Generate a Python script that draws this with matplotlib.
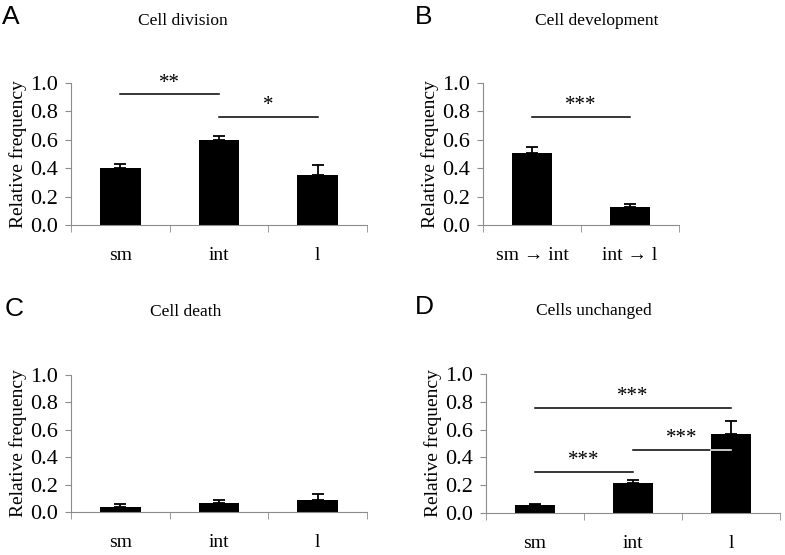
import numpy as np
import matplotlib.pyplot as plt

# Valores (frequência relativa, média e erro)
cats_3 = ['sm', 'int', 'l']
cats_dev = ['sm \u2192 int', 'int \u2192 l']

div_vals = [0.40, 0.60, 0.35]
div_err = [0.03, 0.03, 0.075]

dev_vals = [0.51, 0.13]
dev_err = [0.04, 0.02]

death_vals = [0.04, 0.065, 0.09]
death_err = [0.02, 0.02, 0.04]

unch_vals = [0.055, 0.215, 0.57]
unch_err = [0.01, 0.02, 0.09]

# comparações: (i, j, altura, texto)
div_sig = [(0, 1, 0.92, '**'), (1, 2, 0.763, '*')]
dev_sig = [(0, 1, 0.763, '***')]
unch_sig = [(0, 2, 0.758, '***'), (1, 2, 0.453, '***'), (0, 1, 0.297, '***')]

serif = 'Liberation Serif'
cinza = '#8c8c8c'
largura = 0.41

fig = plt.figure(figsize=(7.85, 5.55), dpi=100)


def painel(pos, cats, vals, errs, titulo, letra, sig, letra_x, titulo_x, y_titulo):
    ax = fig.add_axes(pos)
    x = np.arange(len(cats))
    ax.bar(x, vals, width=largura, color='black', zorder=2)
    ax.errorbar(x, vals, yerr=[np.zeros(len(errs)), errs], fmt='none',
                ecolor='black', elinewidth=1.3, capsize=4.5, capthick=1.3, zorder=1)
    for i, j, h, txt in sig:
        ax.plot([x[i], x[j]], [h, h], color='black', lw=1.1, zorder=1.5)
        # a parte da linha que cruza a barra aparece em branco
        if h < vals[j]:
            ax.plot([x[j] - largura / 2, x[j]], [h, h], color='white', lw=1.1, zorder=3)
        ax.text((x[i] + x[j]) / 2, h + 0.012, txt, ha='center', va='bottom',
                fontsize=15, family=serif)
    ax.set_xlim(-0.5, len(cats) - 0.5)
    ax.set_ylim(0, 1.0)
    ax.set_yticks(np.arange(0, 1.01, 0.2))
    ax.set_yticklabels(['%.1f' % v for v in np.arange(0, 1.01, 0.2)],
                       family=serif, fontsize=16)
    ax.set_xticks(x)
    ax.set_xticklabels(cats, family=serif, fontsize=14)
    ax.set_xticks(np.arange(len(cats) + 1) - 0.5, minor=True)
    ax.tick_params(axis='x', which='major', length=0, pad=16)
    ax.tick_params(axis='x', which='minor', length=5, color=cinza)
    ax.tick_params(axis='y', length=4.5, color=cinza, pad=5)
    ax.set_ylabel('Relative frequency', family=serif, fontsize=14, labelpad=2)
    for s in ['top', 'right']:
        ax.spines[s].set_visible(False)
    for s in ['left', 'bottom']:
        ax.spines[s].set_color(cinza)
    fig.text(titulo_x, y_titulo, titulo, ha='center', va='center',
             family=serif, fontsize=12.5)
    fig.text(letra_x, y_titulo + 0.006, letra, ha='left', va='center',
             family='Liberation Sans', fontsize=19)
    return ax


painel([0.0904, 0.5946, 0.3771, 0.2559], cats_3, div_vals, div_err,
       'Cell division', 'A', div_sig, 0.003, 0.233, 0.963)
painel([0.6153, 0.5946, 0.2497, 0.2559], cats_dev, dev_vals, dev_err,
       'Cell development', 'B', dev_sig, 0.528, 0.760, 0.963)
painel([0.0904, 0.0775, 0.3771, 0.2468], cats_3, death_vals, death_err,
       'Cell death', 'C', [], 0.006, 0.236, 0.438)
painel([0.619, 0.0757, 0.3745, 0.2505], cats_3, unch_vals, unch_err,
       'Cells unchanged', 'D', unch_sig, 0.528, 0.757, 0.44)

fig.savefig('out.png', dpi=100)
